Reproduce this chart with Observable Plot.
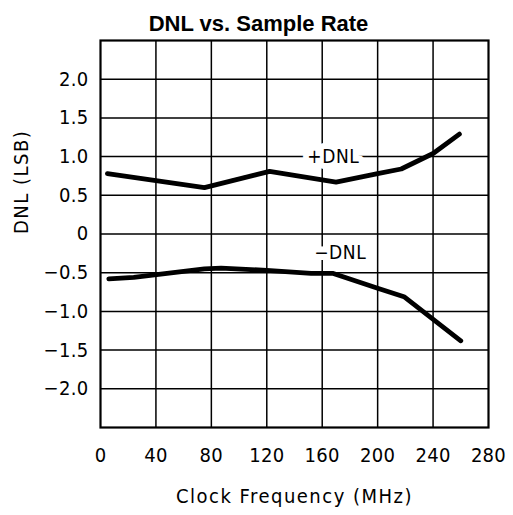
<!DOCTYPE html>
<html>
<head>
<meta charset="utf-8">
<script src="https://cdn.jsdelivr.net/npm/d3@7"></script>
<script src="https://cdn.jsdelivr.net/npm/@observablehq/plot@0.6"></script>
<style>
  body { margin: 0; background: white; }
  .ticks text { letter-spacing: 0.3px; }
  .atitle text { letter-spacing: 1.5px; }
  .clabel text { letter-spacing: 0.6px; }
</style>
</head>
<body>
<div id="chart"></div>
<script>
const freqPos = [5, 40, 75, 122, 170, 200, 217, 240, 259];
const dnlPos  = [0.78, 0.69, 0.60, 0.81, 0.67, 0.78, 0.84, 1.04, 1.29];
const freqNeg = [6, 24, 75, 87, 120, 152, 168, 200, 219, 260];
const dnlNeg  = [-0.58, -0.56, -0.45, -0.44, -0.47, -0.51, -0.51, -0.70, -0.81, -1.38];
const xTicks = [0, 40, 80, 120, 160, 200, 240, 280];
const yTicks = [-2.0, -1.5, -1.0, -0.5, 0, 0.5, 1.0, 1.5, 2.0];
const yGrid = [-2.0, -1.5, -1.0, -0.5, 0, 0.5, 1.0, 1.5, 2.0];
const xGrid = [40, 80, 120, 160, 200, 240];
const labels = [
  {x: 168, y: 0.99, text: "+DNL"},
  {x: 173, y: -0.25, text: "−DNL"}
];
const title = "DNL vs. Sample Rate";
const xLabel = "Clock Frequency (MHz)";
const yLabel = "DNL (LSB)";

const pos = freqPos.map((f, i) => ({f, v: dnlPos[i]}));
const neg = freqNeg.map((f, i) => ({f, v: dnlNeg[i]}));
const cond = "'DejaVu Sans Condensed', 'DejaVu Sans', sans-serif";

const plot = Plot.plot({
  width: 513,
  height: 515,
  marginLeft: 100,
  marginRight: 25,
  marginTop: 40,
  marginBottom: 88,
  style: {fontFamily: cond, fontSize: "20px", color: "black", background: "white"},
  x: {domain: [0, 280]},
  y: {domain: [-2.5, 2.5]},
  marks: [
    Plot.gridX(xGrid, {stroke: "black", strokeOpacity: 1, strokeWidth: 1.5}),
    Plot.gridY(yGrid, {stroke: "black", strokeOpacity: 1, strokeWidth: 1.5}),
    Plot.frame({stroke: "black", strokeWidth: 2.2}),
    Plot.line(pos, {x: "f", y: "v", stroke: "black", strokeWidth: 4.8}),
    Plot.line(neg, {x: "f", y: "v", stroke: "black", strokeWidth: 4.8}),
    Plot.text(labels, {x: "x", y: "y", text: "text", fill: "black", stroke: "white", strokeWidth: 12,
      fontSize: 19, fontFamily: cond, className: "clabel"}),
    Plot.axisX(xTicks, {tickSize: 0, tickPadding: 20, fontSize: 20, fontFamily: cond, className: "ticks", label: null}),
    Plot.axisY(yTicks, {tickSize: 0, tickPadding: 12, fontSize: 20, fontFamily: cond, className: "ticks",
      tickFormat: d => d === 0 ? "0" : d.toFixed(1).replace("-", "−"), label: null}),
    Plot.text([xLabel], {frameAnchor: "bottom", dy: 75, fontSize: 20, fontFamily: cond, className: "atitle", fill: "black"}),
    Plot.text([yLabel], {frameAnchor: "left", dx: -79, rotate: -90, fontSize: 20, fontFamily: cond, className: "atitle", fill: "black"}),
    Plot.text([title], {frameAnchor: "top", dx: -36, dy: -25, fontWeight: "bold", fontSize: 22,
      fontFamily: "'Liberation Sans', Arial, sans-serif", fill: "black"})
  ]
});
document.getElementById("chart").appendChild(plot);
</script>
</body>
</html>
